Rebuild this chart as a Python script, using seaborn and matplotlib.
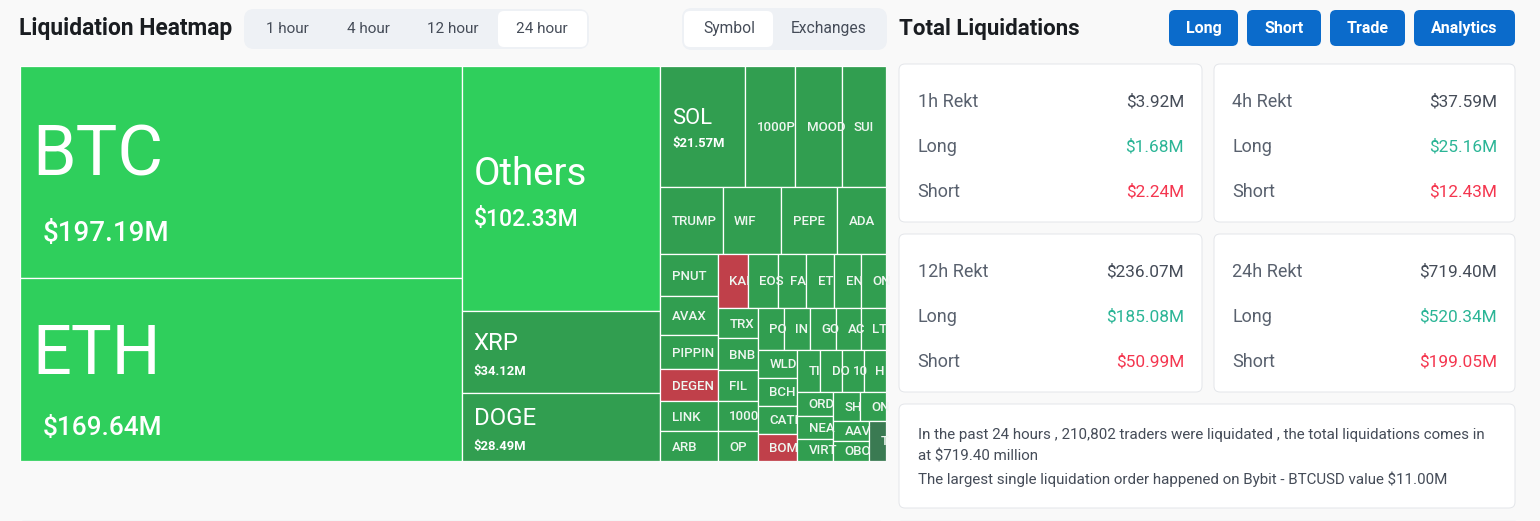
import matplotlib
matplotlib.use("Agg")
import matplotlib.pyplot as plt
from matplotlib.patches import Rectangle, FancyBboxPatch
import seaborn as sns

# ---- data ----
symbols_major = ["BTC", "ETH", "Others", "XRP", "DOGE", "SOL"]
values_major = [197.19, 169.64, 102.33, 34.12, 28.49, 21.57]

symbols_mid = ["1000P", "MOOD", "SUI", "TRUMP", "WIF", "PEPE", "ADA"]
values_mid = [12.7, 11.9, 11.2, 8.78, 8.3, 7.9, 6.9]

symbols_col = ["PNUT", "AVAX", "PIPPIN", "DEGEN", "LINK", "ARB"]
values_col = [5.06, 4.70, 4.10, 3.86, 3.62, 3.62]

symbols_small = ["KAI", "EOS", "FA", "ET", "EN", "ON",
                 "TRX", "BNB", "FIL", "1000", "OP",
                 "PO", "IN", "GO", "AC", "LT",
                 "WLD", "BCH", "CATI", "BOM",
                 "TI", "DO", "10", "H",
                 "ORD", "NEA", "VIRT", "SH", "ON#2", "AAV", "OBO", "T"]
values_small = [3.36, 3.47, 3.14, 3.14, 3.03, 2.80,
                2.58, 2.66, 2.58, 2.58, 2.50,
                2.31, 2.31, 2.31, 2.22, 2.22,
                2.31, 2.31, 2.31, 2.23,
                2.04, 1.86, 1.95, 1.95,
                1.83, 1.75, 1.67, 1.66, 1.59, 1.52, 1.52, 1.44]

short_heavy = ["KAI", "DEGEN", "BOM"]
muted = ["T"]

tabs_time = ["1 hour", "4 hour", "12 hour", "24 hour"]
tabs_view = ["Symbol", "Exchanges"]
buttons = ["Long", "Short", "Trade", "Analytics"]

card_titles = ["1h Rekt", "4h Rekt", "12h Rekt", "24h Rekt"]
card_totals = ["$3.92M", "$37.59M", "$236.07M", "$719.40M"]
card_longs = ["$1.68M", "$25.16M", "$185.08M", "$520.34M"]
card_shorts = ["$2.24M", "$12.43M", "$50.99M", "$199.05M"]

summary_lines = [
    "In the past 24 hours , 210,802 traders were liquidated , the total liquidations comes in",
    "at $719.40 million",
    "The largest single liquidation order happened on Bybit - BTCUSD value $11.00M",
]

# nesting of the treemap: 'h' splits left-right, 'v' splits top-bottom
tree = ("h", [
    ("v", ["BTC", "ETH"]),
    ("v", ["Others", "XRP", "DOGE"]),
    ("v", [
        ("h", ["SOL", "1000P", "MOOD", "SUI"]),
        ("h", ["TRUMP", "WIF", "PEPE", "ADA"]),
        ("h", [
            ("v", symbols_col),
            ("v", [
                ("h", ["KAI", "EOS", "FA", "ET", "EN", "ON"]),
                ("h", [
                    ("v", ["TRX", "BNB", "FIL", "1000", "OP"]),
                    ("v", [
                        ("h", ["PO", "IN", "GO", "AC", "LT"]),
                        ("h", [
                            ("v", ["WLD", "BCH", "CATI", "BOM"]),
                            ("v", [
                                ("h", ["TI", "DO", "10", "H"]),
                                ("h", [
                                    ("v", ["ORD", "NEA", "VIRT"]),
                                    ("v", [
                                        ("h", ["SH", "ON#2"]),
                                        ("h", [("v", ["AAV", "OBO"]), "T"]),
                                    ]),
                                ]),
                            ]),
                        ]),
                    ]),
                ]),
            ]),
        ]),
    ]),
])

# ---- style ----
BG = "#f9f9f9"
BRIGHT, DARK, RED, MUTED = sns.color_palette(["#2fcf5c", "#319e50", "#c0404a", "#3a7a52"])
TITLE = "#1a1d21"; LABEL = "#59616e"; VALUE = "#454c58"
GREEN = "#2bb596"; PINK = "#f4364f"; BLUE = "#0b6bcb"; TABBG = "#eef1f5"; BORDER = "#e4e6ea"

sns.set_theme(style="white", rc={"figure.facecolor": BG, "axes.facecolor": BG})
plt.rcParams["font.family"] = ["Roboto", "DejaVu Sans"]

W, H = 1540, 521
fig = plt.figure(figsize=(W / 100, H / 100), dpi=100, facecolor=BG)
ui = fig.add_axes([0, 0, 1, 1])
ui.set_xlim(0, W); ui.set_ylim(H, 0); ui.axis("off")

def px(s):
    return s * 0.72

def box(x0, y0, x1, y1, fc, ec="none", r=6, lw=1, z=1):
    ui.add_patch(FancyBboxPatch((x0 + r, y0 + r), x1 - x0 - 2 * r, y1 - y0 - 2 * r,
                                boxstyle=f"round,pad={r},rounding_size={r}",
                                fc=fc, ec=ec, lw=lw * 0.72, zorder=z))

def label(x, y, s, size, color, weight="normal", ha="left"):
    ui.text(x, y, s, fontsize=px(size), color=color, fontweight=weight, ha=ha, va="center", zorder=5)

# header left
label(19, 29, "Liquidation Heatmap", 22.7, TITLE, "bold")
box(244, 9, 589, 49, TABBG, r=10)
box(498, 11, 587, 47, "white", r=6, z=2)
for cx, s in zip([287, 368, 453, 542], tabs_time):
    label(cx, 29, s, 15.3, VALUE, ha="center")
box(682, 8, 887, 50, TABBG, r=10)
box(684, 11, 773, 47, "white", r=6, z=2)
for cx, s in zip([729, 829], tabs_view):
    label(cx, 29, s, 15.6, VALUE, ha="center")

# header right
label(899, 28.5, "Total Liquidations", 22.3, TITLE, "bold")
for (x0, x1), s in zip([(1169, 1238), (1247, 1321), (1330, 1405), (1414, 1515)], buttons):
    box(x0, 10, x1, 46, BLUE, r=6)
    label((x0 + x1) / 2, 28.5, s, 16, "white", "bold", ha="center")

# stat cards
for (x0, x1, y0, y1), t, a, b, c in zip(
        [(899, 1202, 64, 222), (1214, 1515, 64, 222), (899, 1202, 234, 392), (1214, 1515, 234, 392)],
        card_titles, card_totals, card_longs, card_shorts):
    box(x0, y0, x1, y1, "white", BORDER)
    label(x0 + 18.5, y0 + 38, t, 18, LABEL)
    label(x1 - 18, y0 + 38, a, 17.3, VALUE, ha="right")
    label(x0 + 18.5, y0 + 83, "Long", 18, LABEL)
    label(x1 - 18, y0 + 83, b, 17.3, GREEN, ha="right")
    label(x0 + 18.5, y0 + 128, "Short", 18, LABEL)
    label(x1 - 18, y0 + 128, c, 17.3, PINK, ha="right")

box(899, 404, 1515, 508, "white", BORDER)
for y, s in zip([434.5, 456.5, 479.5], summary_lines):
    label(918, y, s, 15.1, VALUE)

# slivers of the next row at the bottom edge
ui.plot([22, 880], [520.5, 520.5], color=BORDER, lw=1)
ui.plot([900, 1515], [520.5, 520.5], color=BORDER, lw=1)

# ---- treemap ----
values = dict(zip(symbols_major + symbols_mid + symbols_col + symbols_small,
                  values_major + values_mid + values_col + values_small))

TX0, TY0, TX1, TY1 = 20, 66, 886, 461
tm = fig.add_axes([TX0 / W, 1 - TY1 / H, (TX1 - TX0) / W, (TY1 - TY0) / H])
tm.set_xlim(0, TX1 - TX0); tm.set_ylim(TY1 - TY0, 0); tm.axis("off")

def total(node):
    return values[node] if isinstance(node, str) else sum(total(c) for c in node[1])

def layout(node, x, y, w, h, out):
    if isinstance(node, str):
        out.append((node, x, y, w, h))
        return
    kind, children = node
    s = total(node)
    for c in children:
        f = total(c) / s
        if kind == "h":
            layout(c, x, y, w * f, h, out); x += w * f
        else:
            layout(c, x, y, w, h * f, out); y += h * f

cells = []
layout(tree, 0, 0, TX1 - TX0, TY1 - TY0, cells)

bright = ["BTC", "ETH", "Others"]
# name: (name px, name dy, value px, value dy, value x offset, margin, value weight)
big = {"BTC": (70, -16, 27.7, 61, 23, 12, "medium"), "ETH": (68.5, -15, 26.3, 58, 23, 12, "medium"),
       "Others": (38.5, -14, 23, 31, 12, 12, "medium"), "XRP": (24, -8, 13, 20, 12, 12, "bold"),
       "DOGE": (24, -8, 13, 20, 12, 12, "bold"), "SOL": (22, -8, 13, 17, 12, 12, "bold")}
shown = dict(zip(symbols_major, values_major))

for name, x, y, w, h in cells:
    fc = RED if name in short_heavy else MUTED if name in muted else BRIGHT if name in bright else DARK
    r = Rectangle((x, y), w, h, fc=fc, ec="white", lw=0.9, zorder=1)
    tm.add_patch(r)
    cy = y + h / 2
    if name in big:
        ns, nd, vs, vd, vx, m, vw = big[name]
        t1 = tm.text(x + m, cy + nd, name, fontsize=px(ns), color="white", va="center", zorder=3)
        t2 = tm.text(x + vx, cy + vd, f"${shown[name]:.2f}M", fontsize=px(vs), color="white",
                     fontweight=vw, va="center", zorder=3)
        t1.set_clip_path(r); t2.set_clip_path(r)
    else:
        t = tm.text(x + 11.5, cy + 1, name.split("#")[0], fontsize=px(13.3), color="#eef6f0",
                    fontweight="medium", va="center", zorder=3)
        t.set_clip_path(r)

fig.savefig("out.png", dpi=100, facecolor=BG)
